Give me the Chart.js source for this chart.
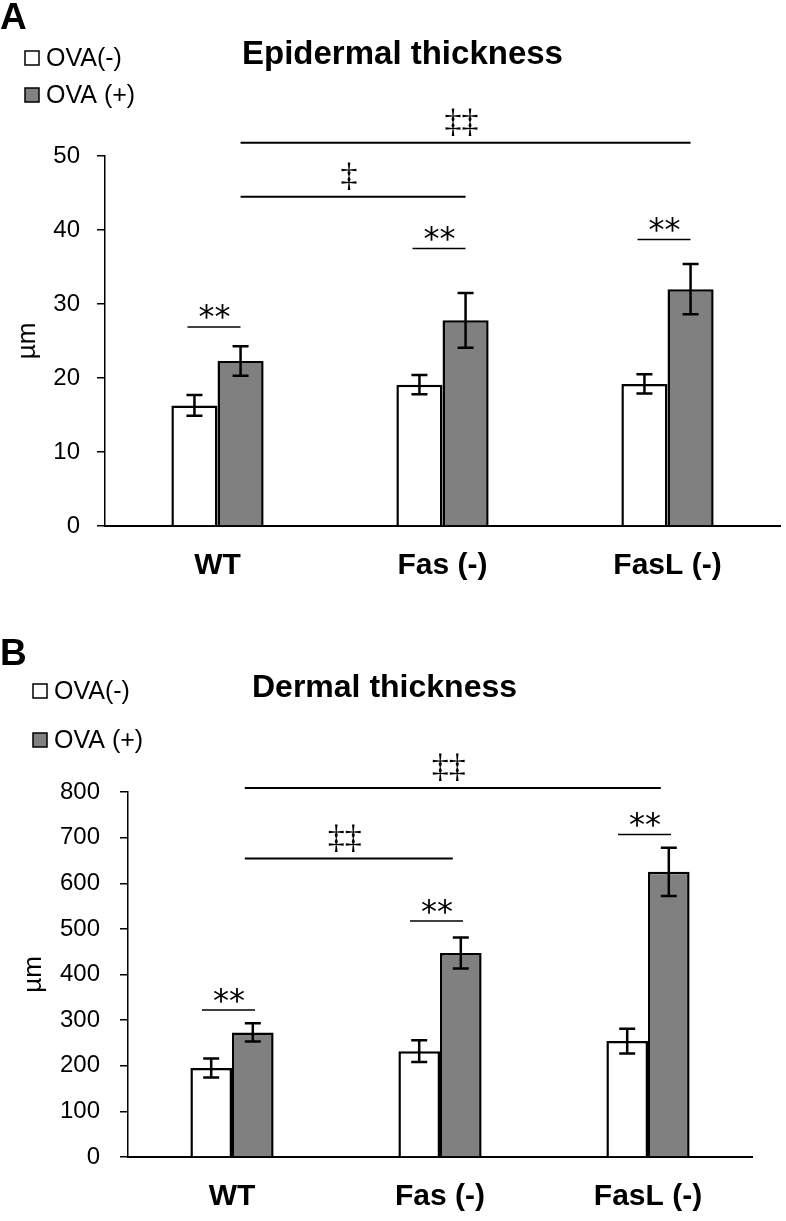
<!DOCTYPE html>
<html>
<head>
<meta charset="utf-8">
<script src="https://cdn.jsdelivr.net/npm/chart.js@4.4.1/dist/chart.umd.min.js"></script>
<style>
  body { margin: 0; background: #fff; width: 786px; height: 1221px; overflow: hidden; }
  .panel { position: absolute; left: 0; width: 786px; }
</style>
</head>
<body>
<div class="panel" style="top:0;height:610px"><canvas id="epidermal"></canvas></div>
<div class="panel" style="top:610px;height:611px"><canvas id="dermal"></canvas></div>
<script>
var groups = ['WT', 'Fas (-)', 'FasL (-)'];
var seriesNames = ['OVA(-)', 'OVA (+)'];

// epidermal thickness (µm), mean and SE
var epiNeg = [16.3, 19.1, 19.2];
var epiNegSe = [1.4, 1.3, 1.3];
var epiPos = [22.3, 27.8, 32.0];
var epiPosSe = [2.0, 3.7, 3.4];
var epiStarLevel = [26.9, 37.5, 38.7];
var epiBrackets = [[0, 1, '‡', 44.5], [0, 2, '‡‡', 51.8]];
var epiMax = 50, epiStep = 10;

// dermal thickness (µm), mean and SE
var dermNeg = [195, 232, 254];
var dermNegSe = [21, 24, 27];
var dermPos = [273, 447, 625];
var dermPosSe = [20, 34, 53];
var dermStarLevel = [322, 517, 707];
var dermBrackets = [[0, 1, '‡‡', 654], [0, 2, '‡‡', 809]];
var dermMax = 800, dermStep = 100;

Chart.defaults.font.family = '"Liberation Sans", Arial, sans-serif';
Chart.defaults.color = '#000';

function centerText(ctx, str, x, y, font) {
  ctx.font = font;
  ctx.textAlign = 'center';
  ctx.textBaseline = 'alphabetic';
  var m = ctx.measureText(str);
  ctx.fillText(str, x, y + (m.actualBoundingBoxAscent - m.actualBoundingBoxDescent) / 2);
}

function hline(ctx, x0, x1, y) {
  ctx.beginPath();
  ctx.moveTo(x0, y);
  ctx.lineTo(x1, y);
  ctx.stroke();
}

var annotate = {
  id: 'annotate',
  afterDatasetsDraw: function (chart, args, o) {
    var ctx = chart.ctx, xs = chart.scales.x, ys = chart.scales.y;
    ctx.save();
    ctx.strokeStyle = '#000';
    ctx.fillStyle = '#000';

    // error bars
    ctx.lineWidth = 2.5;
    chart.data.datasets.forEach(function (ds, i) {
      chart.getDatasetMeta(i).data.forEach(function (bar, j) {
        var top = ys.getPixelForValue(ds.data[j] + ds.se[j]);
        var bot = ys.getPixelForValue(ds.data[j] - ds.se[j]);
        ctx.beginPath();
        ctx.moveTo(bar.x, top); ctx.lineTo(bar.x, bot);
        ctx.moveTo(bar.x - 8, top); ctx.lineTo(bar.x + 8, top);
        ctx.moveTo(bar.x - 8, bot); ctx.lineTo(bar.x + 8, bot);
        ctx.stroke();
      });
    });

    // ** within group
    ctx.lineWidth = 1.5;
    o.stars.forEach(function (lvl, j) {
      var cx = xs.getPixelForValue(j) - 3;
      var ly = ys.getPixelForValue(lvl);
      hline(ctx, cx - 27, cx + 26, ly);
      centerText(ctx, '**', cx, ly - 15, '32px "DejaVu Sans"');
    });

    // between-group brackets, from the OVA(+) bars
    var gray = chart.getDatasetMeta(1).data;
    ctx.lineWidth = 2;
    o.brackets.forEach(function (b) {
      var ly = ys.getPixelForValue(b[3]);
      var x0 = gray[b[0]].x - o.bracketShift, x1 = gray[b[1]].x - o.bracketShift;
      hline(ctx, x0, x1, ly);
      centerText(ctx, b[2], (x0 + x1) / 2 - 4, ly - 21, '34px "Liberation Serif"');
    });
    ctx.restore();
  },
  afterDraw: function (chart, args, o) {
    var ctx = chart.ctx;
    ctx.save();
    ctx.fillStyle = '#000';
    ctx.textBaseline = 'middle';
    ctx.textAlign = 'left';
    ctx.font = 'bold 37px "Liberation Sans", Arial';
    ctx.fillText(o.letter, 0, o.letterY);
    ctx.font = 'bold ' + o.titleSize + 'px "Liberation Sans", Arial';
    ctx.fillText(o.title, o.titleX, o.titleY);

    // legend
    ctx.font = '25px "Liberation Sans", Arial';
    chart.data.datasets.forEach(function (ds, i) {
      var ly = o.legendY + i * o.legendGap;
      ctx.fillStyle = ds.backgroundColor;
      ctx.fillRect(o.legendX, ly - 7, 14, 14);
      ctx.lineWidth = 1.5;
      ctx.strokeStyle = '#000';
      ctx.strokeRect(o.legendX, ly - 7, 14, 14);
      ctx.fillStyle = '#000';
      ctx.fillText(ds.label, o.legendX + 21, ly + 1);
    });
    ctx.restore();
  }
};

function makeChart(id, neg, negSe, pos, posSe, max, step, cfg) {
  return new Chart(document.getElementById(id).getContext('2d'), {
    type: 'bar',
    data: {
      labels: groups,
      datasets: [{
        label: seriesNames[0],
        data: neg,
        se: negSe,
        backgroundColor: '#ffffff',
        borderColor: '#000000',
        borderWidth: 2.5
      }, {
        label: seriesNames[1],
        data: pos,
        se: posSe,
        backgroundColor: '#808080',
        borderColor: '#000000',
        borderWidth: 2.5
      }]
    },
    options: {
      responsive: true,
      maintainAspectRatio: false,
      animation: false,
      layout: { padding: { top: cfg.top, right: cfg.right, left: 0, bottom: 0 } },
      datasets: { bar: { barPercentage: 1, categoryPercentage: cfg.catPct } },
      plugins: {
        legend: { display: false },
        tooltip: { enabled: false },
        annotate: cfg.annotate
      },
      scales: {
        x: {
          grid: { display: false, drawTicks: false },
          border: { display: true, color: '#000', width: 2 },
          ticks: { font: { size: 30, weight: 'bold' }, padding: 22 },
          afterFit: function (s) { s.height = cfg.xHeight; }
        },
        y: {
          min: 0,
          max: max,
          ticks: { stepSize: step, font: { size: 24 }, padding: cfg.tickPad },
          grid: { drawOnChartArea: false, drawTicks: true, tickLength: 8, color: '#000', lineWidth: 1.5 },
          border: { display: true, color: '#000', width: 1.5 },
          title: { display: true, text: 'µm', font: { size: 26 }, padding: { top: cfg.titlePad } },
          afterFit: function (s) { s.width = cfg.yWidth; }
        }
      }
    },
    plugins: [annotate]
  });
}

document.addEventListener('DOMContentLoaded', function () {
  makeChart('epidermal', epiNeg, epiNegSe, epiPos, epiPosSe, epiMax, epiStep, {
    top: 156, right: 6, xHeight: 84, yWidth: 105, tickPad: 17, titlePad: 12, catPct: 0.41,
    annotate: {
      stars: epiStarLevel, brackets: epiBrackets, bracketShift: 0,
      letter: 'A', letterY: 19, title: 'Epidermal thickness', titleSize: 33, titleX: 242, titleY: 55,
      legendX: 25, legendY: 58, legendGap: 37
    }
  });
  makeChart('dermal', dermNeg, dermNegSe, dermPos, dermPosSe, dermMax, dermStep, {
    top: 182, right: 34, xHeight: 64, yWidth: 128, tickPad: 20, titlePad: 18, catPct: 0.4,
    annotate: {
      stars: dermStarLevel, brackets: dermBrackets, bracketShift: 8,
      letter: 'B', letterY: 45, title: 'Dermal thickness', titleSize: 32, titleX: 252, titleY: 78,
      legendX: 33, legendY: 81, legendGap: 49
    }
  });
});
</script>
</body>
</html>
